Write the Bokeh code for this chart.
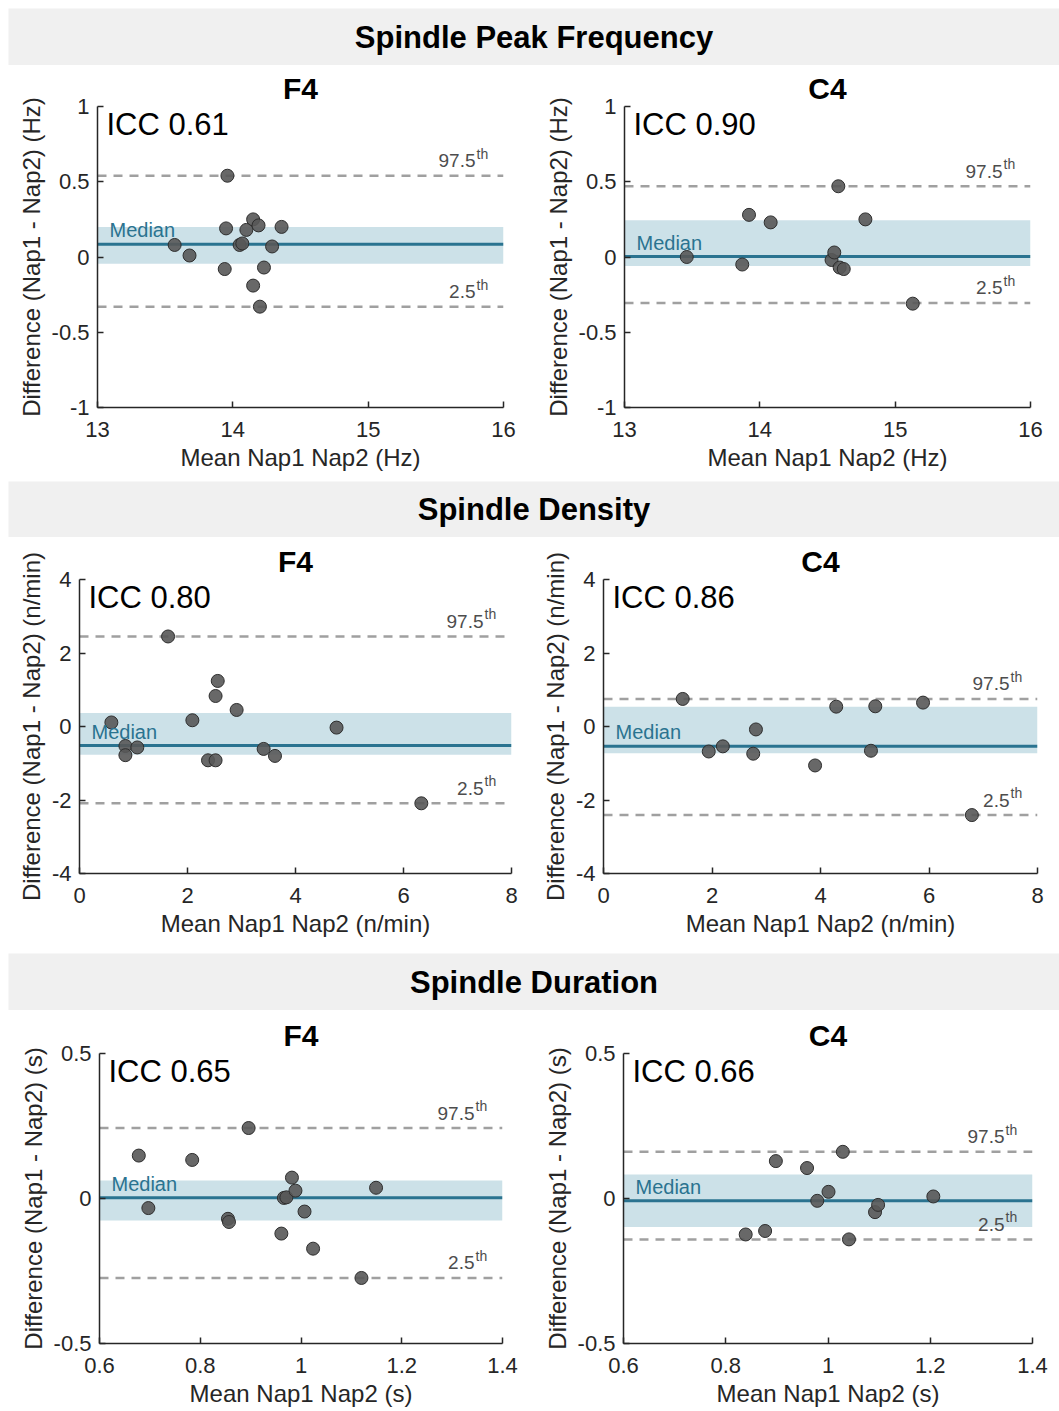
from bokeh.plotting import figure
from bokeh.layouts import column, row
from bokeh.models import FixedTicker, Span, BoxAnnotation, Label
from bokeh.embed import file_html
from bokeh.resources import INLINE

# ---------------- data ----------------
section_titles = ["Spindle Peak Frequency", "Spindle Density", "Spindle Duration"]
channel_titles = ["F4", "C4"]

freq_f4_mean = [13.57, 13.68, 13.94, 13.95, 13.96, 14.05, 14.07, 14.10, 14.15, 14.15, 14.19, 14.20, 14.23, 14.29, 14.36]
freq_f4_diff = [0.08, 0.01, -0.08, 0.19, 0.54, 0.08, 0.09, 0.18, 0.25, -0.19, 0.21, -0.33, -0.07, 0.07, 0.20]
freq_f4_stats = dict(icc="ICC 0.61", median=0.085, band_lo=-0.045, band_hi=0.20, p975=0.54, p025=-0.33)

freq_c4_mean = [13.46, 13.87, 13.92, 14.08, 14.53, 14.55, 14.58, 14.59, 14.62, 14.78, 15.13]
freq_c4_diff = [0.00, -0.05, 0.28, 0.23, -0.02, 0.03, 0.47, -0.07, -0.08, 0.25, -0.31]
freq_c4_stats = dict(icc="ICC 0.90", median=0.003, band_lo=-0.06, band_hi=0.245, p975=0.47, p025=-0.305)

dens_f4_mean = [0.59, 0.85, 0.85, 1.07, 1.64, 2.09, 2.38, 2.52, 2.52, 2.56, 2.91, 3.41, 3.62, 4.76, 6.33]
dens_f4_diff = [0.11, -0.53, -0.78, -0.57, 2.45, 0.17, -0.92, -0.92, 0.83, 1.24, 0.45, -0.61, -0.80, -0.03, -2.09]
dens_f4_stats = dict(icc="ICC 0.80", median=-0.52, band_lo=-0.77, band_hi=0.37, p975=2.45, p025=-2.09)

dens_c4_mean = [1.46, 1.94, 2.20, 2.76, 2.81, 3.90, 4.29, 4.93, 5.01, 5.89, 6.79]
dens_c4_diff = [0.75, -0.68, -0.54, -0.74, -0.08, -1.06, 0.54, -0.66, 0.55, 0.65, -2.41]
dens_c4_stats = dict(icc="ICC 0.86", median=-0.54, band_lo=-0.73, band_hi=0.54, p975=0.75, p025=-2.41)

dur_f4_mean = [0.678, 0.697, 0.784, 0.855, 0.857, 0.896, 0.961, 0.966, 0.971, 0.982, 0.989, 1.007, 1.024, 1.120, 1.149]
dur_f4_diff = [0.148, -0.033, 0.133, -0.070, -0.081, 0.243, -0.121, 0.002, 0.004, 0.072, 0.027, -0.045, -0.173, -0.274, 0.037]
dur_f4_stats = dict(icc="ICC 0.65", median=0.003, band_lo=-0.076, band_hi=0.062, p975=0.243, p025=-0.274)

dur_c4_mean = [0.839, 0.877, 0.898, 0.959, 0.979, 1.001, 1.029, 1.041, 1.092, 1.098, 1.206]
dur_c4_diff = [-0.124, -0.112, 0.129, 0.105, -0.008, 0.023, 0.161, -0.141, -0.047, -0.022, 0.007]
dur_c4_stats = dict(icc="ICC 0.66", median=-0.008, band_lo=-0.098, band_hi=0.083, p975=0.161, p025=-0.141)

freq_x_ticks = [13, 14, 15, 16]
freq_x_labels = ["13", "14", "15", "16"]
freq_y_ticks = [-1, -0.5, 0, 0.5, 1]
freq_y_labels = ["-1", "-0.5", "0", "0.5", "1"]
dens_x_ticks = [0, 2, 4, 6, 8]
dens_x_labels = ["0", "2", "4", "6", "8"]
dens_y_ticks = [-4, -2, 0, 2, 4]
dens_y_labels = ["-4", "-2", "0", "2", "4"]
dur_x_ticks = [0.6, 0.8, 1.0, 1.2, 1.4]
dur_x_labels = ["0.6", "0.8", "1", "1.2", "1.4"]
dur_y_ticks = [-0.5, 0, 0.5]
dur_y_labels = ["-0.5", "0", "0.5"]

freq_xlabel = "Mean Nap1 Nap2 (Hz)"
freq_ylabel = "Difference (Nap1 - Nap2) (Hz)"
dens_xlabel = "Mean Nap1 Nap2 (n/min)"
dens_ylabel = "Difference (Nap1 - Nap2) (n/min)"
dur_xlabel = "Mean Nap1 Nap2 (s)"
dur_ylabel = "Difference (Nap1 - Nap2) (s)"

# ---------------- style ----------------
FONT = "Liberation Sans"
AX = "#262626"
TEAL = "#2a7390"
BAND = "#cce1e8"
DASH = "#a0a0a0"
PTXT = "#4d4d4d"
HEADER_BG = "#f0f0f0"


def header(text, h, top_white):
    p = figure(width=1059, height=h, x_range=(0, 1), y_range=(0, 1),
               toolbar_location=None, output_backend="svg", title=None,
               min_border_left=8, min_border_right=0,
               min_border_top=top_white, min_border_bottom=0)
    p.axis.visible = False
    p.grid.visible = False
    p.outline_line_color = None
    p.background_fill_color = HEADER_BG
    p.border_fill_color = "white"
    p.add_layout(Label(x=0.5, y=0.5, text=text, text_align="center", text_baseline="middle",
                       text_font=FONT, text_font_style="bold", text_font_size="31px",
                       text_color="black"))
    return p


def panel(w, h, borders, xr, yr, xt, xl, yt, yl, xlab, ylab, mean, diff, st, title):
    bl, br, bt, bb = borders
    p = figure(width=w, height=h, x_range=xr, y_range=yr, toolbar_location=None,
               output_backend="svg", title=title,
               min_border_left=bl, min_border_right=br, min_border_top=bt, min_border_bottom=bb)
    p.title.align = "center"
    p.title.text_font = FONT
    p.title.text_font_style = "bold"
    p.title.text_font_size = "30px"
    p.title.text_color = "black"
    p.title.standoff = 4
    p.grid.visible = False
    p.outline_line_color = None
    p.background_fill_color = "white"
    p.border_fill_color = "white"
    for ax, ticks, labels, lab in ((p.xaxis[0], xt, xl, xlab), (p.yaxis[0], yt, yl, ylab)):
        ax.ticker = FixedTicker(ticks=ticks)
        ax.major_label_overrides = {t: s for t, s in zip(ticks, labels)}
        ax.axis_label = lab
        ax.axis_label_text_font = FONT
        ax.axis_label_text_font_size = "24px"
        ax.axis_label_text_font_style = "normal"
        ax.axis_label_text_color = AX
        ax.major_label_text_font = FONT
        ax.major_label_text_font_size = "22px"
        ax.major_label_text_color = AX
        ax.axis_line_color = AX
        ax.axis_line_width = 1.5
        ax.major_tick_line_color = AX
        ax.major_tick_line_width = 1.5
        ax.major_tick_in = 6
        ax.major_tick_out = 0
        ax.minor_tick_line_color = None
    p.xaxis.major_label_standoff = 14
    p.xaxis.axis_label_standoff = 4
    p.yaxis.major_label_standoff = 8
    p.yaxis.axis_label_standoff = 4

    p.add_layout(BoxAnnotation(bottom=st["band_lo"], top=st["band_hi"], fill_color=BAND,
                               fill_alpha=1.0, line_color=None, level="underlay"))
    for v in (st["p975"], st["p025"]):
        p.add_layout(Span(location=v, dimension="width", line_color=DASH, line_width=2.5,
                          line_dash="9 7", level="underlay"))
    p.add_layout(Span(location=st["median"], dimension="width", line_color=TEAL, line_width=3,
                      level="underlay"))

    p.scatter(mean, diff, size=13, fill_color="#585858", fill_alpha=0.9,
              line_color="#2e2e2e", line_width=1)

    x0, x1 = xr
    y1 = yr[1]
    # ICC
    p.add_layout(Label(x=x0, y=y1, x_offset=9, y_offset=-18, text=st["icc"], text_align="left",
                       text_baseline="alphabetic", text_font=FONT, text_font_size="31px",
                       text_color="black"))
    # Median
    p.add_layout(Label(x=x0, y=st["median"], x_offset=12, y_offset=14, text="Median",
                       text_align="left", text_baseline="alphabetic", text_font=FONT,
                       text_font_size="20px", text_color=TEAL))
    # percentile labels
    for v, s in ((st["p975"], "97.5"), (st["p025"], "2.5")):
        p.add_layout(Label(x=x1, y=v, x_offset=-28, y_offset=15, text=s, text_align="right",
                           text_baseline="alphabetic", text_font=FONT, text_font_size="19px",
                           text_color=PTXT))
        p.add_layout(Label(x=x1, y=v, x_offset=-27, y_offset=22, text="th", text_align="left",
                           text_baseline="alphabetic", text_font=FONT, text_font_size="14px",
                           text_color=PTXT))
    return p


h1 = header(section_titles[0], 65, 8)
h2 = header(section_titles[1], 56, 0)
h3 = header(section_titles[2], 57, 0)

p1 = panel(530, 416, (97, 27, 41, 74), (13, 16), (-1, 1), freq_x_ticks, freq_x_labels,
           freq_y_ticks, freq_y_labels, freq_xlabel, freq_ylabel,
           freq_f4_mean, freq_f4_diff, freq_f4_stats, channel_titles[0])
p2 = panel(529, 416, (94, 29, 41, 74), (13, 16), (-1, 1), freq_x_ticks, freq_x_labels,
           freq_y_ticks, freq_y_labels, freq_xlabel, freq_ylabel,
           freq_c4_mean, freq_c4_diff, freq_c4_stats, channel_titles[1])
p3 = panel(530, 416, (79, 19, 42, 80), (0, 8), (-4, 4), dens_x_ticks, dens_x_labels,
           dens_y_ticks, dens_y_labels, dens_xlabel, dens_ylabel,
           dens_f4_mean, dens_f4_diff, dens_f4_stats, channel_titles[0])
p4 = panel(529, 416, (73, 22, 42, 80), (0, 8), (-4, 4), dens_x_ticks, dens_x_labels,
           dens_y_ticks, dens_y_labels, dens_xlabel, dens_ylabel,
           dens_c4_mean, dens_c4_diff, dens_c4_stats, channel_titles[1])
p5 = panel(530, 401, (99, 28, 42, 68), (0.6, 1.4), (-0.5, 0.5), dur_x_ticks, dur_x_labels,
           dur_y_ticks, dur_y_labels, dur_xlabel, dur_ylabel,
           dur_f4_mean, dur_f4_diff, dur_f4_stats, channel_titles[0])
p6 = panel(529, 401, (93, 27, 43, 63), (0.6, 1.4), (-0.5, 0.5), dur_x_ticks, dur_x_labels,
           dur_y_ticks, dur_y_labels, dur_xlabel, dur_ylabel,
           dur_c4_mean, dur_c4_diff, dur_c4_stats, channel_titles[1])

layout = column(h1, row(p1, p2, spacing=0), h2, row(p3, p4, spacing=0), h3,
                row(p5, p6, spacing=0), spacing=0)

open("out.html", "w").write(file_html(layout, INLINE))
